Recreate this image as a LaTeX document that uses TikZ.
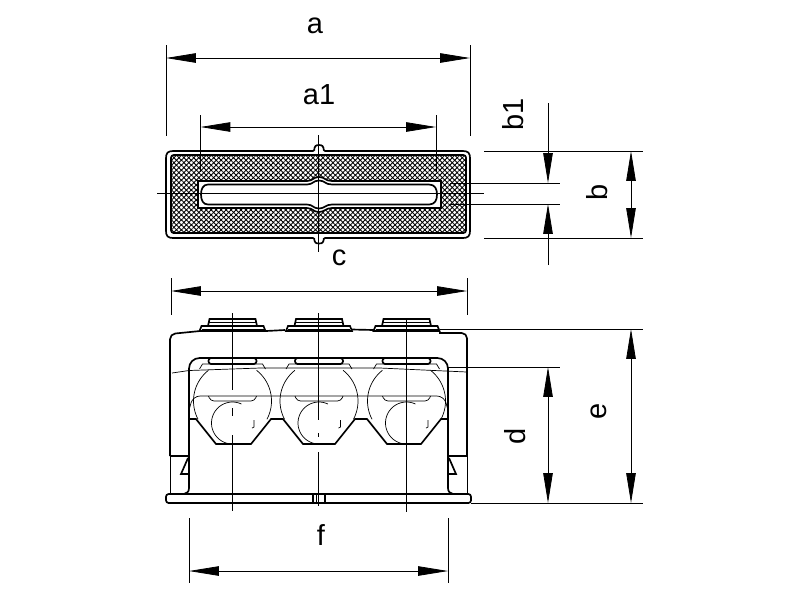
\documentclass[tikz,border=0pt]{standalone}
\usepackage{fontspec}
\setmainfont{Liberation Sans}
\usetikzlibrary{arrows.meta, patterns.meta}
\tikzset{
  thick line/.style={line width=0.95pt},
  thin line/.style={line width=0.4pt},
  dim line/.style={line width=0.45pt},
  dim arrows/.style={dim line, {Triangle[length=17pt,width=5.4pt]}-{Triangle[length=17pt,width=5.4pt]}},
  dim tip/.style={dim line, -{Triangle[length=17pt,width=5.4pt]}},
  dim label/.style={font=\fontsize{16.5}{20}\selectfont},
  net a/.style={pattern={Lines[angle=45,distance=2pt,line width=0.5pt]}, pattern color=black},
  net b/.style={pattern={Lines[angle=-45,distance=2pt,line width=0.5pt]}, pattern color=black}
}
\begin{document}
\begin{tikzpicture}[x=0.02cm,y=-0.02cm]
    \useasboundingbox (0,0) rectangle (800,600);

    % Top view
    \draw[thick line] (173,151) -- (313,151) .. controls (316,151) and (312,145) .. (319,145) .. controls (326,145) and (322,151) .. (325,151) -- (463,151) .. controls (468,151) and (470,153) .. (470,158) -- (470,231) .. controls (470,236) and (468,238) .. (463,238) -- (325,238) .. controls (322,238) and (326,243.5) .. (319,243.5) .. controls (312,243.5) and (316,238) .. (313,238) -- (173,238) .. controls (168,238) and (166,236) .. (166,231) -- (166,158) .. controls (166,153) and (168,151) .. (173,151) -- cycle;
    \fill[net a, even odd rule] (171,155) rectangle (466,233) (198,181) rectangle (441,208);
    \fill[net b, even odd rule] (171,155) rectangle (466,233) (198,181) rectangle (441,208);
    \draw[thick line, rounded corners=1.5] (171,155) rectangle (466,233);
    \draw[thick line, fill=white] (198,181) -- (307,181) .. controls (313,181) and (313,177) .. (319,177) .. controls (325,177) and (325,181) .. (332,181) -- (441,181) -- (441,208) -- (332,208) .. controls (325,208) and (325,212) .. (319,212) .. controls (313,212) and (313,208) .. (307,208) -- (198,208) -- cycle;
    \draw[thick line] (208,184.5) -- (307,184.5) .. controls (313,184.5) and (313,180.5) .. (319,180.5) .. controls (325,180.5) and (325,184.5) .. (332,184.5) -- (429,184.5) .. controls (435,184.5) and (437,189) .. (437,194.5) .. controls (437,200) and (435,204.5) .. (429,204.5) -- (332,204.5) .. controls (325,204.5) and (325,208.5) .. (319,208.5) .. controls (313,208.5) and (313,204.5) .. (307,204.5) -- (208,204.5) .. controls (203,204.5) and (201,200) .. (201,194.5) .. controls (201,189) and (203,184.5) .. (208,184.5) -- cycle;
    \draw[dim line] (318.5,135) -- (318.5,252);
    \draw[dim line] (157,193.5) -- (484,193.5);

    % Dimensions a, a1, c
    \draw[dim line] (166,45) -- (166,136);
    \draw[dim line] (470,45) -- (470,136);
    \draw[dim arrows] (166,58) -- (470,58);
    \node[dim label] (labela) at (315,26) {a};
    \draw[dim line] (200.5,115) -- (200.5,172);
    \draw[dim line] (436,115) -- (436,172);
    \draw[dim arrows] (200.5,127) -- (436,127);
    \node[dim label] (labela1) at (319,95) {a1};
    \draw[dim line] (171,278) -- (171,315) (170,456) -- (170,495);
    \draw[dim line] (467,278) -- (467,315) (467,456) -- (467,495);
    \draw[dim arrows] (171,291) -- (467,291);
    \node[dim label] (labelc) at (339,258) {c};

    % Dimensions b, b1
    \draw[dim line] (484,151) -- (643,151);
    \draw[dim line] (484,238) -- (643,238);
    \draw[dim line] (450,183) -- (560,183);
    \draw[dim line] (450,204) -- (560,204);
    \draw[dim arrows] (631,151) -- (631,238);
    \draw[dim tip] (548,103) -- (548,183);
    \draw[dim tip] (548,265) -- (548,204);
    \node[dim label, rotate=90] (labelb1) at (513,114) {b1};
    \node[dim label, rotate=90] (labelb) at (597,192) {b};

    % Front view, body
    \draw[thick line, rounded corners=3] (170,456) -- (170,334) -- (200,331);
    \draw[thick line] (266,331) -- (285,330) (352,329.5) -- (374,330);
    \draw[thick line, rounded corners=3] (439,333) -- (467,333) -- (467,456);
    \draw[thick line] (170,456) -- (188,456) (449,456) -- (467,456);
    \draw[thick line, rounded corners=6] (189,488) -- (189,358) -- (448,358) -- (448,488);
    \draw[thick line] (189,488) .. controls (189,492) and (187,493) .. (184,494);
    \draw[thick line] (448,488) .. controls (448,492) and (450,493) .. (453,494);
    \draw[thin line] (172,373) -- (189,370.5) -- (260,368) -- (380,368) -- (467,372);
    \draw[thin line, rounded corners=4] (189,410) -- (193,396) -- (444,396) -- (448,410);

    % Nuts
    \foreach \cx in {232.5,319,406.5} {
      \draw[thick line] (\cx-33,331) -- (\cx-31,326) -- (\cx+31,326) -- (\cx+33,331) -- cycle;
      \draw[thick line] (\cx-24.5,326) -- (\cx-23,319) -- (\cx+23,319) -- (\cx+24.5,326);
      \draw[thin line] (\cx-23.5,322) -- (\cx+23.5,322) (\cx-31,329) -- (\cx+31,329);
      \draw[thick line, rounded corners=1.5] (\cx-24,358) rectangle (\cx+24,364);
      \draw[thin line] (\cx-33,369) -- (\cx-30,364) -- (\cx+30,364) -- (\cx+33,369);
      \draw[thin line, rounded corners=2] (\cx-24,396) -- (\cx-22,401) -- (\cx+22,401) -- (\cx+24,396);
      \draw[thin line] (\cx+21.5,420) -- (\cx+21.5,427) -- (\cx+19.5,428);
      % Balls
      \draw[thin line] plot[domain=128:208, samples=30, smooth] ({\cx+39*cos(\x)},{401-39*sin(\x)});
      \draw[thin line] plot[domain=52:-28, samples=30, smooth] ({\cx+39*cos(\x)},{401-39*sin(\x)});
      \draw[thin line] plot[domain=65:270, samples=40, smooth] ({\cx+21*cos(\x)},{423-21*sin(\x)});
    }

    % Clamp outline
    \draw[thick line] (189,419) -- (196,419) -- (216,444) -- (251,444) -- (271,419) -- (283,419) -- (303,444) -- (335,444) -- (355,419) -- (367,419) -- (387,444) -- (421,444) -- (441,419) -- (448,419);

    % Tabs
    \draw[thick line] (188,458) -- (181,474) -- (188,474);
    \draw[thick line] (449,458) -- (456,474) -- (449,474);

    % Base plate
    \draw[thick line, fill=white, rounded corners=1.5] (166,494) rectangle (471,503);
    \draw[thick line] (313,494) -- (313,503) (325,494) -- (325,503);
    \draw[thin line] (316,494) -- (316,503);

    % Centre lines
    \draw[dim line] (232.5,313) -- (232.5,390) (232.5,408) -- (232.5,416) (232.5,435) -- (232.5,511);
    \draw[dim line] (318.5,313) -- (318.5,420) (318.5,433) -- (318.5,437) (318.5,452) -- (318.5,506);
    \draw[dim line] (406.5,320) -- (406.5,512);

    % Dimensions d, e, f
    \draw[dim line] (440,329) -- (643,329);
    \draw[dim line] (448,367) -- (560,367);
    \draw[dim line] (471,503) -- (643,503);
    \draw[dim arrows] (548,367) -- (548,503);
    \draw[dim arrows] (631,329) -- (631,503);
    \node[dim label, rotate=90] (labeld) at (515,436) {d};
    \node[dim label, rotate=90] (labele) at (599,411) {e};
    \draw[dim line] (189,518) -- (189,583);
    \draw[dim line] (448,518) -- (448,583);
    \draw[dim arrows] (189,571) -- (448,571);
    \node[dim label] (labelf) at (321,535) {f};
\end{tikzpicture}
\end{document}
